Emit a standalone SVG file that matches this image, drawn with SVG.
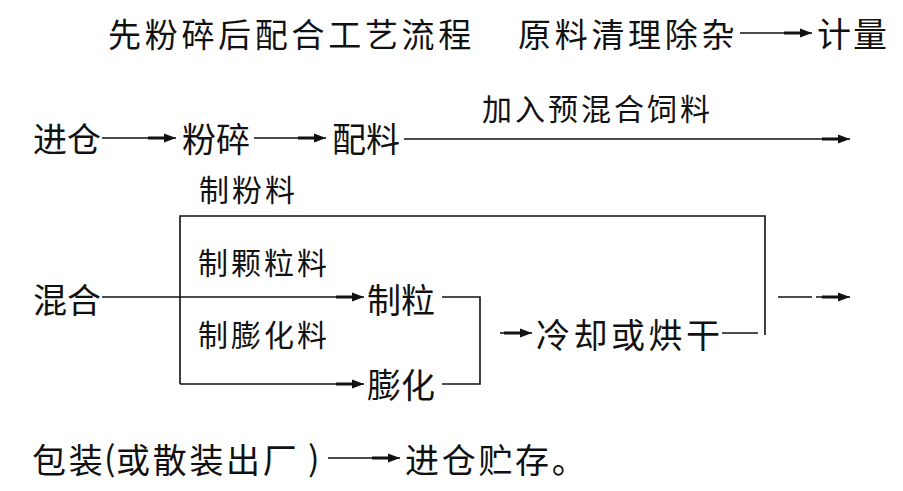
<svg xmlns="http://www.w3.org/2000/svg" width="903" height="491" viewBox="0 0 903 491">
<defs>
<style>
text{font-family:"Noto Sans CJK SC","Noto Sans CJK TC",sans-serif;fill:#111;}
.b{font-size:34px;}
.w{font-size:34px;letter-spacing:2.7px;}
.s{font-size:30px;letter-spacing:3px;}
.t{font-size:33px;letter-spacing:3.7px;}
.ln{stroke:#111;stroke-width:1.6;fill:none;}
</style>
<marker id="ah" markerUnits="userSpaceOnUse" viewBox="-16 0 28 9" refX="12" refY="4.5" markerWidth="28" markerHeight="9" orient="auto" overflow="visible">
<path d="M-16,3 H0 V0 L12,4.5 L0,9 V6 H-16 z" fill="#111"/>
</marker>
</defs>
<rect width="903" height="491" fill="#fff"/>
<g id="title"><text class="t" x="108" y="47">先粉碎后配合工艺流程</text></g>
<g id="n-clean"><text class="t" x="518" y="47">原料清理除杂</text></g>
<g id="n-measure"><text class="b" x="817" y="47" style="letter-spacing:2px">计量</text></g>
<g id="n-bin"><text class="b" x="33" y="152">进仓</text></g>
<g id="n-grind"><text class="b" x="182" y="152">粉碎</text></g>
<g id="n-batch"><text class="b" x="332" y="152">配料</text></g>
<g id="l-premix"><text class="s" x="482" y="120">加入预混合饲料</text></g>
<g id="l-powder"><text class="s" x="199" y="201">制粉料</text></g>
<g id="l-pellet"><text class="s" x="198" y="274">制颗粒料</text></g>
<g id="l-extrude"><text class="s" x="198" y="346">制膨化料</text></g>
<g id="n-mix"><text class="b" x="33" y="313">混合</text></g>
<g id="n-pelletize"><text class="b" x="367" y="313">制粒</text></g>
<g id="n-extrusion"><text class="b" x="367" y="398">膨化</text></g>
<g id="n-cool"><text class="b" x="536" y="348" style="letter-spacing:3.5px">冷却或烘干</text></g>
<g id="n-pack">
<text class="w" x="32" y="473">包装</text>
<text class="b" x="104" y="471">(</text>
<text class="w" x="116" y="473">或散装出厂</text>
<text class="b" x="308" y="471">)</text>
</g>
<g id="n-store"><text class="w" x="405" y="473">进仓贮存。</text></g>
<g id="connectors">
<line class="ln" x1="740" y1="33" x2="812" y2="33" marker-end="url(#ah)"/>
<line class="ln" x1="102" y1="138" x2="176" y2="138" marker-end="url(#ah)"/>
<line class="ln" x1="254" y1="138" x2="326" y2="138" marker-end="url(#ah)"/>
<line class="ln" x1="404" y1="139" x2="850" y2="139" marker-end="url(#ah)"/>
<line class="ln" x1="102" y1="297" x2="364" y2="297" marker-end="url(#ah)"/>
<path class="ln" d="M180,384 V216 H765 V335"/>
<line class="ln" x1="180" y1="384" x2="364" y2="384" marker-end="url(#ah)"/>
<path class="ln" d="M442,297 H480 V384 H442"/>
<line class="ln" x1="500" y1="333" x2="532" y2="333" marker-end="url(#ah)"/>
<line class="ln" x1="722" y1="333" x2="758" y2="333"/>
<line class="ln" x1="778" y1="297" x2="812" y2="297"/>
<line class="ln" x1="816" y1="297" x2="850" y2="297" marker-end="url(#ah)"/>
<line class="ln" x1="328" y1="458" x2="400" y2="458" marker-end="url(#ah)"/>
</g>
</svg>
